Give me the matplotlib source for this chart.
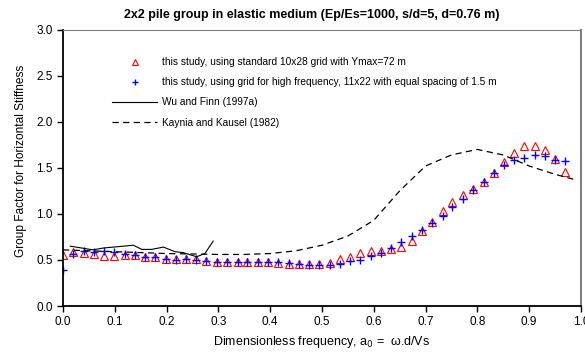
import matplotlib.pyplot as plt

plt.rcParams['font.family'] = ['Liberation Sans', 'DejaVu Sans']

# Dimensionless frequency a0 for the computed points
a0 = [0.000, 0.020, 0.040, 0.059, 0.079, 0.099, 0.119, 0.139, 0.158, 0.178,
      0.198, 0.218, 0.238, 0.257, 0.277, 0.297, 0.317, 0.337, 0.356, 0.376,
      0.396, 0.416, 0.436, 0.455, 0.475, 0.495, 0.515, 0.535, 0.554, 0.574,
      0.594, 0.614, 0.634, 0.653, 0.673, 0.693, 0.713, 0.733, 0.752, 0.772,
      0.792, 0.812, 0.832, 0.851, 0.871, 0.891, 0.911, 0.931, 0.950, 0.970]

# standard 10x28 grid, Ymax = 72 m
gf_standard = [0.55, 0.59, 0.58, 0.57, 0.54, 0.54, 0.55, 0.55, 0.535, 0.53,
               0.51, 0.51, 0.51, 0.51, 0.49, 0.48, 0.48, 0.48, 0.48, 0.48,
               0.48, 0.47, 0.46, 0.455, 0.455, 0.455, 0.47, 0.51, 0.535, 0.58,
               0.595, 0.595, 0.62, 0.64, 0.705, 0.81, 0.915, 1.03, 1.13, 1.20,
               1.27, 1.345, 1.445, 1.56, 1.66, 1.74, 1.74, 1.69, 1.60, 1.46]

# high frequency 11x22 grid, 1.5 m spacing
gf_highfreq = [0.39, 0.565, 0.595, 0.59, 0.60, 0.59, 0.57, 0.55, 0.535, 0.53,
               0.51, 0.50, 0.51, 0.50, 0.49, 0.48, 0.48, 0.48, 0.48, 0.48,
               0.48, 0.475, 0.47, 0.455, 0.445, 0.445, 0.445, 0.46, 0.49, 0.505,
               0.54, 0.58, 0.625, 0.69, 0.76, 0.825, 0.905, 0.975, 1.07, 1.16,
               1.265, 1.35, 1.445, 1.53, 1.585, 1.61, 1.64, 1.63, 1.59, 1.57]

# Wu and Finn (1997a)
wu_a0 = [0.014, 0.036, 0.058, 0.078, 0.136, 0.152, 0.171, 0.194, 0.216, 0.232,
         0.258, 0.274, 0.290]
wu_gf = [0.65, 0.63, 0.61, 0.63, 0.66, 0.615, 0.615, 0.64, 0.59, 0.58,
         0.535, 0.57, 0.705]

# Kaynia and Kausel (1982)
kk_a0 = [0.0, 0.05, 0.1, 0.15, 0.2, 0.25, 0.3, 0.35, 0.4, 0.45, 0.5, 0.55,
         0.6, 0.65, 0.7, 0.75, 0.8, 0.85, 0.9, 0.95, 0.99]
kk_gf = [0.61, 0.60, 0.59, 0.58, 0.57, 0.565, 0.56, 0.56, 0.57, 0.60, 0.66,
         0.76, 0.93, 1.25, 1.52, 1.64, 1.70, 1.64, 1.52, 1.43, 1.37]

fig = plt.figure(figsize=(5.85, 3.53), dpi=100)
ax = fig.add_axes([0.1077, 0.133, 0.8853, 0.783])

ax.plot(a0, gf_standard, linestyle='none', marker='^', markersize=5.5,
        markerfacecolor='none', markeredgecolor='red', markeredgewidth=0.8,
        label='this study, using standard 10x28 grid with Ymax=72 m')
ax.plot(a0, gf_highfreq, linestyle='none', marker='+', markersize=6,
        color='blue', markeredgewidth=1.0,
        label='this study, using grid for high frequency, 11x22 with equal spacing of 1.5 m')
ax.plot(wu_a0, wu_gf, color='black', linewidth=0.8, label='Wu and Finn (1997a)')
ax.plot(kk_a0, kk_gf, color='black', linewidth=0.9, linestyle=(0, (5, 3.5)),
        label='Kaynia and Kausel (1982)')

ax.set_xlim(0, 1.0)
ax.set_ylim(0, 3.0)
ax.set_xticks([i / 10 for i in range(11)])
ax.set_yticks([i / 2 for i in range(7)])
ax.xaxis.set_major_formatter(plt.FormatStrFormatter('%.1f'))
ax.yaxis.set_major_formatter(plt.FormatStrFormatter('%.1f'))
ax.tick_params(labelsize=8.5, direction='out', length=4, width=1.0, colors='black')

for side in ['left', 'bottom']:
    ax.spines[side].set_linewidth(1.3)
ax.spines['right'].set_color('#808080')
ax.spines['right'].set_linewidth(1.5)
ax.spines['top'].set_color('#808080')
ax.spines['top'].set_linewidth(0.8)

ax.set_xlabel('Dimensionless frequency, a$_0$ =  \u03c9.d/Vs', fontsize=9)
ax.set_ylabel('Group Factor for Horizontal Stiffness', fontsize=8.6)
ax.yaxis.set_label_coords(-0.07, 0.525)
fig.text(312 / 585, 1 - 15 / 353,
         '2x2 pile group in elastic medium (Ep/Es=1000, s/d=5, d=0.76 m)',
         fontsize=9, fontweight='bold', ha='center', va='center')

fig.legend(loc='upper left', bbox_to_anchor=(0.1915, 0.838), frameon=False,
           fontsize=7.3, handlelength=4.45, handletextpad=0.5, labelspacing=1.0,
           borderpad=0, borderaxespad=0, markerscale=0.8)

fig.savefig('out.png', dpi=100)
